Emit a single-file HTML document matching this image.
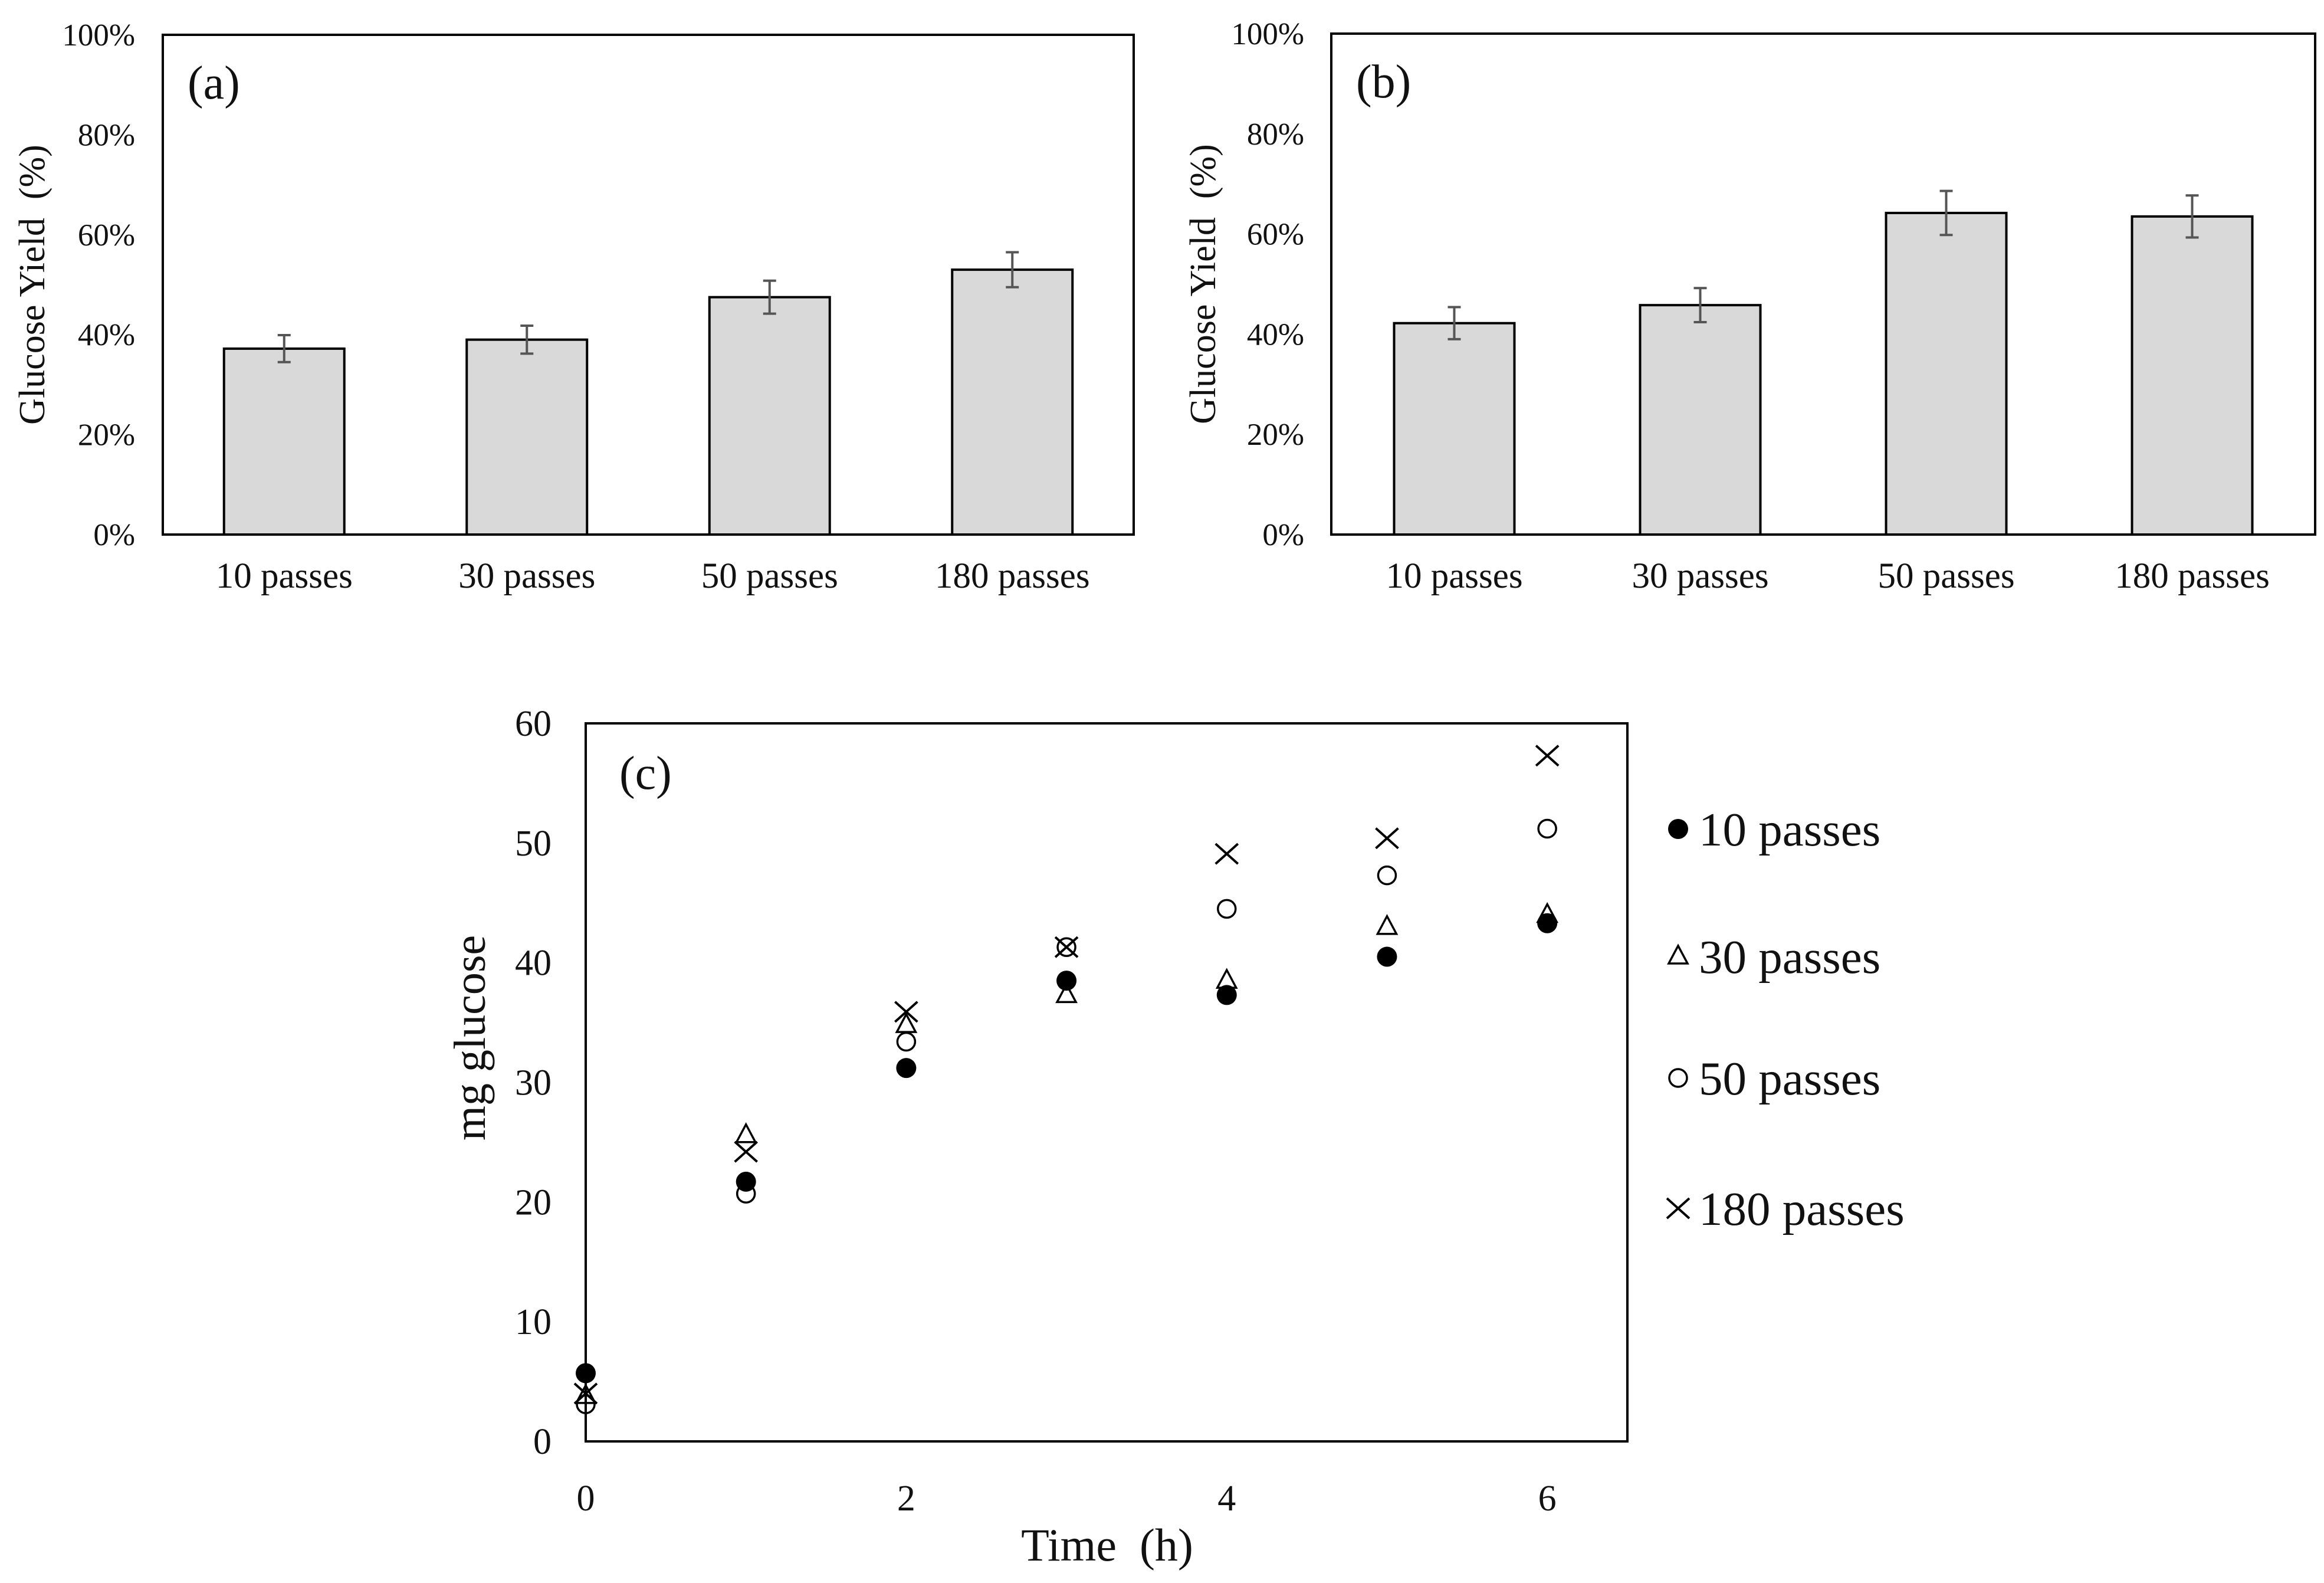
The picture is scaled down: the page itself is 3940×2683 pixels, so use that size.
<!DOCTYPE html>
<html><head><meta charset="utf-8"><style>
body{margin:0;background:#fff}
svg{display:block;font-family:"Liberation Serif",serif}
</style></head><body>
<svg id="fig" width="3940" height="2683" viewBox="0 0 3940 2683" xmlns="http://www.w3.org/2000/svg"></svg>
<script>
const barCategories = ["10 passes","30 passes","50 passes","180 passes"];
const yieldA = [37.2, 39.0, 47.5, 53.0];
const errA = [2.7, 2.8, 3.3, 3.5];
const yieldB = [42.2, 45.8, 64.2, 63.5];
const errB = [3.2, 3.4, 4.4, 4.2];
const pctTicks = [0,20,40,60,80,100];
const timeX = [0,1,2,3,4,5,6];
const s10 = [5.7, 21.7, 31.2, 38.5, 37.3, 40.5, 43.3];
const s30 = [3.8, 25.6, 34.8, 37.3, 38.5, 43.0, 44.0];
const s50 = [3.1, 20.7, 33.4, 41.3, 44.5, 47.3, 51.2];
const s180 = [4.0, 24.2, 35.9, 41.3, 49.1, 50.4, 57.3];
const cTicksY = [0,10,20,30,40,50,60];
const cTicksX = [0,2,4,6];
const seriesNames = ["10 passes","30 passes","50 passes","180 passes"];

const svg = document.getElementById('fig');
const NS = "http://www.w3.org/2000/svg";
function mk(tag, attrs, parent, text){
  const e = document.createElementNS(NS, tag);
  for (const k in attrs) e.setAttribute(k, attrs[k]);
  if (text !== undefined) e.textContent = text;
  (parent||svg).appendChild(e);
  return e;
}

function barPanel(id, x0, x1, y0, y1, vals, errs, tag, labelX, tickX){
  const g = mk('g', {});
  
  
  const ys = v => y1 - (v/100)*(y1-y0);
  const bw = (x1-x0)/barCategories.length;
  pctTicks.forEach(t=>{
    const tx = mk('text', {x:tickX, y:ys(t)+18, 'font-size':53, 'text-anchor':'end', fill:'#111'}, g, t+'%');
    
    
  });
  vals.forEach((v,i)=>{
    const cx = x0 + bw*(i+0.5);
    const r = mk('rect', {x:cx-102, y:ys(v), width:204, height:y1-ys(v), fill:'#d9d9d9', stroke:'#000', 'stroke-width':4}, g);
    
    
    const e = mk('path', {d:`M${cx} ${ys(v+errs[i])}V${ys(v-errs[i])}M${cx-11} ${ys(v+errs[i])}H${cx+11}M${cx-11} ${ys(v-errs[i])}H${cx+11}`, stroke:'#555', 'stroke-width':4, fill:'none'}, g);
    
    
    const l = mk('text', {x:cx, y:y1+90, 'font-size':61, 'text-anchor':'middle', fill:'#111'}, g, barCategories[i]);
    
    
  });
  const box = mk('rect', {x:x0, y:y0, width:x1-x0, height:y1-y0, fill:'none', stroke:'#000', 'stroke-width':4}, g);
  
  
  const t = mk('text', {x:x0+42, y:y0+108, 'font-size':80, fill:'#111'}, g, tag);
  
  
  const yt = mk('text', {x:labelX, y:(y0+y1)/2, 'font-size':62, 'text-anchor':'middle', fill:'#111', transform:`rotate(-90 ${labelX} ${(y0+y1)/2})`}, g, 'Glucose Yield\u00a0\u00a0(%)');
  
  
}
barPanel('a', 276, 1922, 59, 906, yieldA, errA, '(a)', 75, 229);
barPanel('b', 2257, 3925, 57, 906, yieldB, errB, '(b)', 2060, 2211);

// panel c
const cx0=993, cx1=2759, cy0=1226, cy1=2443;
const xs = v => cx0 + v/6.5*(cx1-cx0);
const ysc = v => cy1 - v/60*(cy1-cy0);
const gc = mk('g', {});


const fr = mk('rect', {x:cx0, y:cy0, width:cx1-cx0, height:cy1-cy0, fill:'none', stroke:'#000', 'stroke-width':4}, gc);


cTicksY.forEach(t=>{
  const e = mk('text', {x:935, y:ysc(t)+21, 'font-size':62, 'text-anchor':'end', fill:'#111'}, gc, t);
  
  
});
cTicksX.forEach(t=>{
  const e = mk('text', {x:xs(t), y:2560, 'font-size':62, 'text-anchor':'middle', fill:'#111'}, gc, t);
  
  
});
const xt = mk('text', {x:1877, y:2645, 'font-size':78, 'text-anchor':'middle', fill:'#111'}, gc, 'Time\u00a0\u00a0(h)');


const yt = mk('text', {x:822, y:1759, 'font-size':76, 'text-anchor':'middle', fill:'#111', transform:'rotate(-90 822 1759)'}, gc, 'mg glucose');


const pl = mk('text', {x:1050, y:1337, 'font-size':80, fill:'#111'}, gc, '(c)');



function marker(kind, x, y, g){
  let e;
  if (kind===0) e = mk('circle', {cx:x, cy:y, r:17, fill:'#000'}, g);
  else if (kind===1) e = mk('path', {d:`M${x} ${y-18}L${x+16} ${y+12}H${x-16}Z`, fill:'none', stroke:'#000', 'stroke-width':3.5}, g);
  else if (kind===2) e = mk('circle', {cx:x, cy:y, r:15, fill:'none', stroke:'#000', 'stroke-width':3.5}, g);
  else e = mk('path', {d:`M${x-19} ${y-17}L${x+19} ${y+17}M${x-19} ${y+17}L${x+19} ${y-17}`, stroke:'#000', 'stroke-width':4, fill:'none'}, g);
  return e;
}
const allSeries = [s10, s30, s50, s180];
allSeries.forEach((s,k)=>{
  const g = mk('g', {}, gc);
  
  
  s.forEach((v,i)=>{
    const m = marker(k, xs(timeX[i]), ysc(v), g);
    
    
  });
});
const legendY = [1405, 1621, 1827, 2048];
seriesNames.forEach((n,k)=>{
  const g = mk('g', {}, gc);
  
  
  const m = marker(k, 2845, legendY[k], g);
  
  
  const t = mk('text', {x:2880, y:legendY[k]+28, 'font-size':81, fill:'#111'}, g, n);
  
  
});
</script>
</body></html>
